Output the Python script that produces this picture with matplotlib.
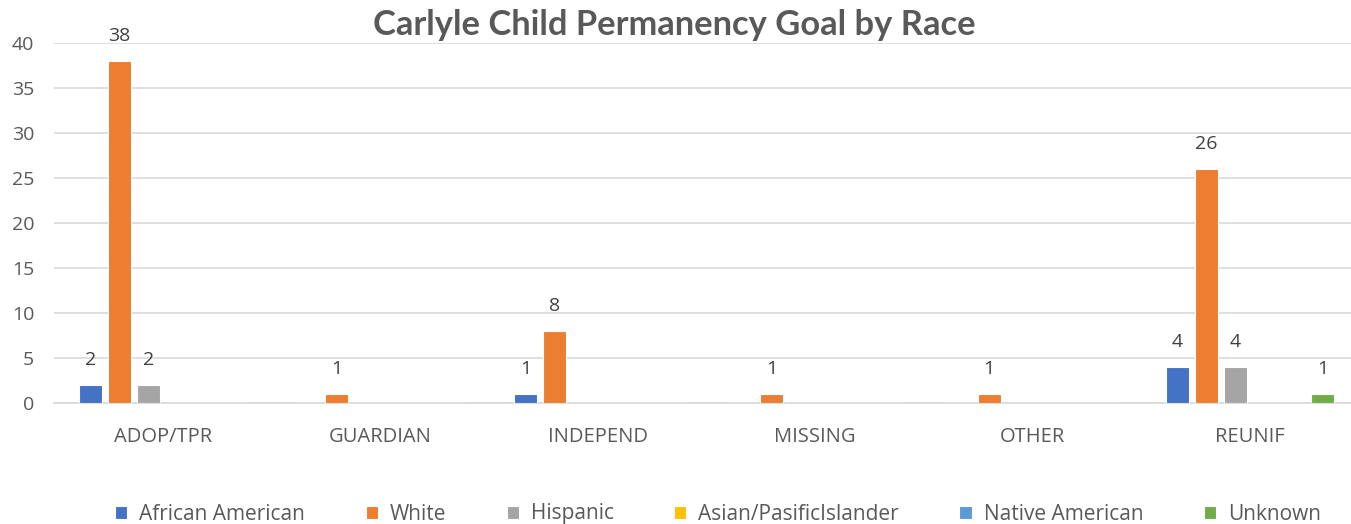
import numpy as np
import matplotlib
matplotlib.use('Agg')
import matplotlib.pyplot as plt

categories = ['ADOP/TPR', 'GUARDIAN', 'INDEPEND', 'MISSING', 'OTHER', 'REUNIF']
series_names = ['African American', 'White', 'Hispanic', 'Asian/PasificIslander',
                'Native American', 'Unknown']
african_american = [2, 0, 1, 0, 0, 4]
white = [38, 1, 8, 1, 1, 26]
hispanic = [2, 0, 0, 0, 0, 4]
asian = [0, 0, 0, 0, 0, 0]
native_american = [0, 0, 0, 0, 0, 0]
unknown = [0, 0, 0, 0, 0, 1]
colors = ['#4472C4', '#ED7D31', '#A5A5A5', '#FFC000', '#5B9BD5', '#70AD47']

plt.rcParams['font.family'] = ['Open Sans', 'DejaVu Sans']

W, H = 1351, 524
fig = plt.figure(figsize=(W / 100, H / 100), dpi=100)
# plot area runs a little past the right edge, as in the reference
left, right, bottom, top = 54.25, 1358.75, 403, 43
ax = fig.add_axes([left / W, (H - bottom) / H, (right - left) / W, (bottom - top) / H])

all_series = [african_american, white, hispanic, asian, native_american, unknown]
x = np.arange(len(categories))
slot = 29 / 217.5
bar_w = 23 / 217.5
for i, (name, vals, c) in enumerate(zip(series_names, all_series, colors)):
    pos = x + (i - 2.5) * slot
    bars = ax.bar(pos, vals, width=bar_w, color=c, edgecolor='white', linewidth=0.8,
                  label=name, zorder=3)
    for b, v in zip(bars, vals):
        if v > 0:
            ax.text(b.get_x() + b.get_width() / 2, v + 2.75, str(v), ha='center', va='center',
                    fontsize=14, color='#404040')

ax.set_xlim(-0.5, len(categories) - 0.5)
ax.set_ylim(0, 40)
ax.set_yticks(range(0, 41, 5))
ax.yaxis.grid(True, color='#D9D9D9', linewidth=1.2, zorder=0)
ax.set_axisbelow(True)
for s in ['top', 'right', 'left']:
    ax.spines[s].set_visible(False)
ax.spines['bottom'].set_color('#D9D9D9')
ax.spines['bottom'].set_linewidth(1.2)
ax.tick_params(axis='both', length=0, labelsize=14, labelcolor='#595959')
ax.tick_params(axis='x', pad=17, labelsize=14.5)
ax.tick_params(axis='y', pad=14.5)
ax.set_xticks(x)
ax.set_xticklabels(categories)

fig.text(674 / W, 1 - 35 / H, 'Carlyle Child Permanency Goal by Race', ha='center',
         va='baseline', fontsize=24.8, fontweight='bold', color='#595959',
         family=['Lato', 'DejaVu Sans'])

fig.legend(loc='center', bbox_to_anchor=(718 / W, 1 - 514 / H), ncol=6, frameon=False,
           fontsize=15, labelcolor='#595959', handlelength=0.58, handleheight=0.58,
           columnspacing=2.9, handletextpad=0.58)

fig.savefig('out.png', dpi=100)
